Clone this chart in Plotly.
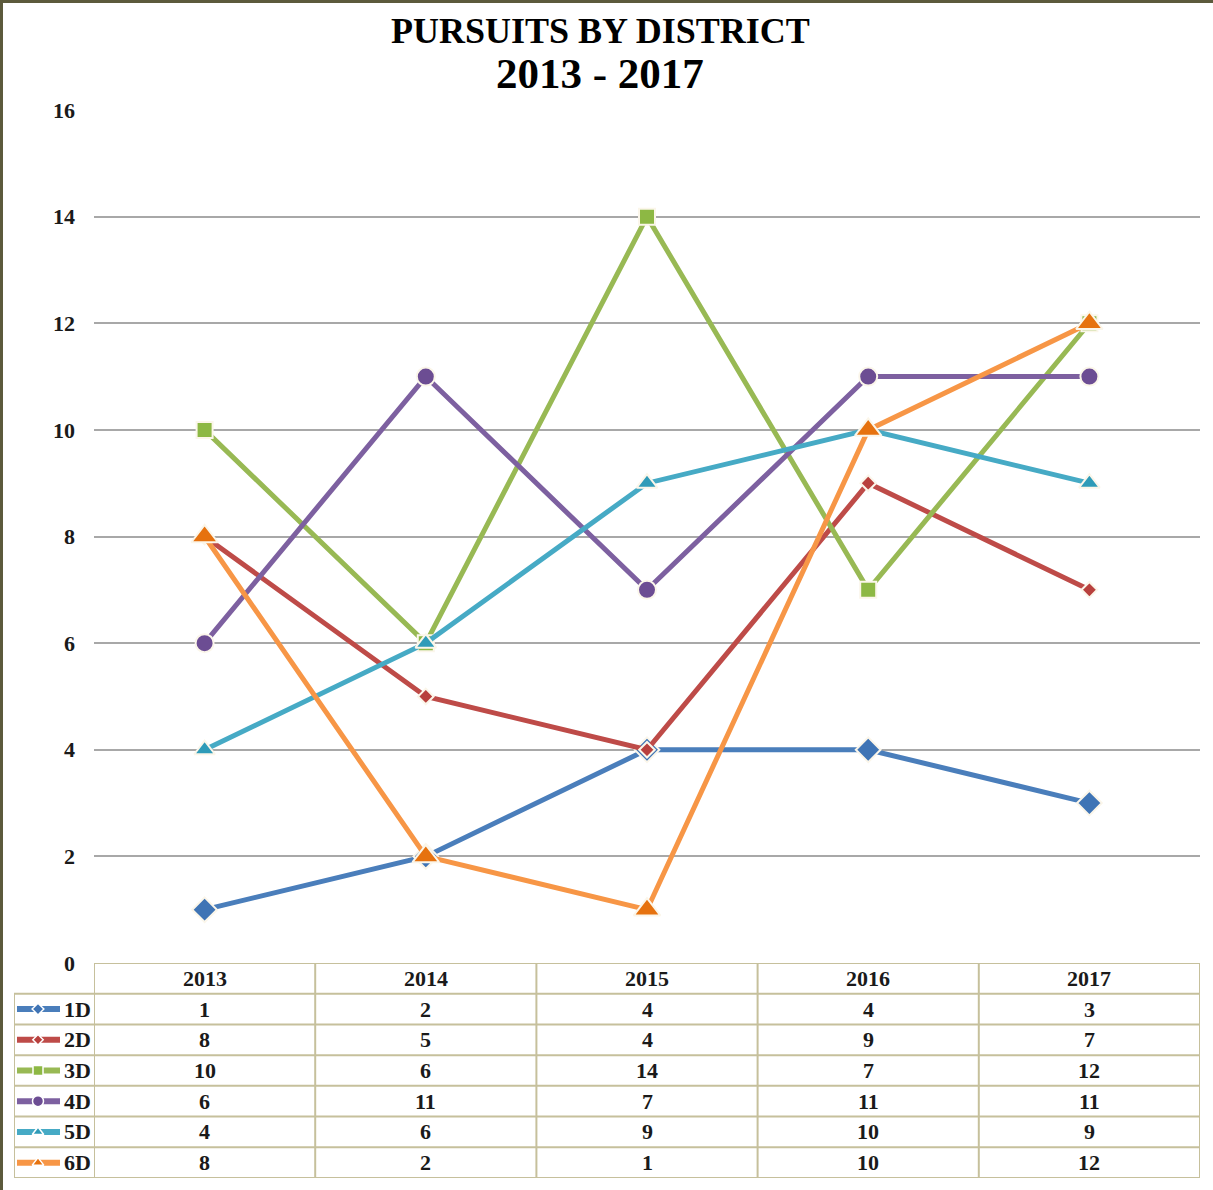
import plotly.graph_objects as go

years = ["2013", "2014", "2015", "2016", "2017"]
series_names = ["1D", "2D", "3D", "4D", "5D", "6D"]
d1 = [1, 2, 4, 4, 3]
d2 = [8, 5, 4, 9, 7]
d3 = [10, 6, 14, 7, 12]
d4 = [6, 11, 7, 11, 11]
d5 = [4, 6, 9, 10, 9]
d6 = [8, 2, 1, 10, 12]
values = [d1, d2, d3, d4, d5, d6]
y_ticks = [0, 2, 4, 6, 8, 10, 12, 14, 16]

line_colors = ["#4a7ebb", "#be4b48", "#98b954", "#7d60a0", "#46aac5", "#f79646"]
marker_colors = ["#3f74b5", "#b8403d", "#8db844", "#6c4d93", "#2f9bb8", "#e6720f"]
symbols = ["diamond", "diamond", "square", "circle", "triangle-up", "triangle-up"]
msizes = [19, 12, 16, 18, 18, 23]
lmsizes = [9, 8, 10, 11, 10, 10]

W, H = 1213, 1190
ML, MR, MT, MB = 14, 13, 110, 12
PW = W - ML - MR
PH = H - MT - MB
def px_x(px):
    return (px - ML) / PW
def px_y(py):
    return (H - MB - py) / PH

main_left = 94
table_top = 963
x_dom0 = px_x(main_left)
y_split = px_y(table_top)

serif = "Liberation Serif"
font_txt = dict(family=serif, size=22, color="#1a1a1a")

fig = go.Figure()
x_idx = list(range(len(years)))
for i, name in enumerate(series_names):
    fig.add_trace(go.Scatter(
        x=x_idx, y=values[i], mode="lines+markers", name=name,
        line=dict(color=line_colors[i], width=5),
        marker=dict(symbol=symbols[i], size=msizes[i], color=marker_colors[i],
                    line=dict(color="#fbf6ea", width=2)),
        cliponaxis=False, xaxis="x", yaxis="y", showlegend=False))

n_rows = len(series_names) + 1
for i, name in enumerate(series_names):
    r = i + 1
    fig.add_trace(go.Scatter(
        x=[3, 24, 46], y=[r, r, r], mode="lines", line=dict(color=line_colors[i], width=6),
        xaxis="x3", yaxis="y3", showlegend=False, hoverinfo="skip"))
    fig.add_trace(go.Scatter(
        x=[24], y=[r], mode="markers",
        marker=dict(symbol=symbols[i], size=lmsizes[i], color=marker_colors[i],
                    line=dict(color="white", width=1.5)),
        xaxis="x3", yaxis="y3", showlegend=False, hoverinfo="skip"))

annotations = []
annotations.append(dict(text="<b>PURSUITS BY DISTRICT</b>",
                        x=px_x(600), y=px_y(31), xref="paper", yref="paper",
                        showarrow=False, font=dict(family=serif, size=36, color="#000000"),
                        xanchor="center", yanchor="middle"))
annotations.append(dict(text="<b>2013 - 2017</b>",
                        x=px_x(600), y=px_y(74), xref="paper", yref="paper",
                        showarrow=False, font=dict(family=serif, size=43, color="#000000"),
                        xanchor="center", yanchor="middle"))
for j, yr in enumerate(years):
    annotations.append(dict(text="<b>%s</b>" % yr, x=j, y=0, xref="x", yref="y2",
                            showarrow=False, font=font_txt))
for i, name in enumerate(series_names):
    annotations.append(dict(text="<b>%s</b>" % name, x=48, y=i + 1, xref="x3", yref="y3",
                            xanchor="left", showarrow=False, font=font_txt))
    for j in range(len(years)):
        annotations.append(dict(text="<b>%d</b>" % values[i][j], x=j, y=i + 1, xref="x",
                                yref="y2", showarrow=False, font=font_txt))

shapes = []
tcol = "#c6c09c"
for k in range(n_rows + 1):
    yb = k - 0.5
    shapes.append(dict(type="line", xref="x", yref="y2", x0=-0.5, x1=len(years) - 0.5,
                       y0=yb, y1=yb, line=dict(color=tcol, width=2)))
    if k >= 1:
        shapes.append(dict(type="line", xref="x3", yref="y3", x0=0, x1=80,
                           y0=yb, y1=yb, line=dict(color=tcol, width=2)))
for j in range(len(years) + 1):
    xb = j - 0.5
    shapes.append(dict(type="line", xref="x", yref="y2", x0=xb, x1=xb,
                       y0=-0.5, y1=n_rows - 0.5, line=dict(color=tcol, width=2)))
shapes.append(dict(type="line", xref="x3", yref="y3", x0=0, x1=0,
                   y0=0.5, y1=n_rows - 0.5, line=dict(color=tcol, width=2)))
shapes.append(dict(type="line", xref="paper", yref="paper", x0=px_x(0), x1=px_x(W),
                   y0=px_y(1.5), y1=px_y(1.5), line=dict(color="#5c5a3c", width=3)))
shapes.append(dict(type="line", xref="paper", yref="paper", x0=px_x(1.5), x1=px_x(1.5),
                   y0=px_y(H), y1=px_y(0), line=dict(color="#5c5a3c", width=3)))

fig.update_layout(
    width=W, height=H, autosize=False,
    margin=dict(l=ML, r=MR, t=MT, b=MB, autoexpand=False),
    paper_bgcolor="white", plot_bgcolor="white",
    xaxis=dict(domain=[x_dom0, 1], range=[-0.5, len(years) - 0.5], showticklabels=False,
               showgrid=False, zeroline=False, showline=False, ticks="", anchor="y"),
    yaxis=dict(domain=[y_split, 1], range=[0, 16], tickvals=y_ticks,
               ticktext=["<b>%d</b>" % v for v in y_ticks],
               showgrid=True, gridcolor="#a8a8a8", gridwidth=1.5, zeroline=False,
               showline=False, ticks="", ticklabelstandoff=18,
               tickfont=dict(family=serif, size=22, color="#1a1a1a"), anchor="x"),
    yaxis2=dict(domain=[0, y_split], range=[n_rows - 0.5, -0.5], visible=False, anchor="x"),
    xaxis3=dict(domain=[0, x_dom0], range=[0, 80], visible=False, anchor="y3"),
    yaxis3=dict(domain=[0, y_split], range=[n_rows - 0.5, -0.5], visible=False, anchor="x3"),
    annotations=annotations, shapes=shapes,
)

fig.write_html("out.html", config={"displayModeBar": False, "responsive": False},
               post_script="document.body.style.margin='0';document.body.style.overflow='hidden';")
